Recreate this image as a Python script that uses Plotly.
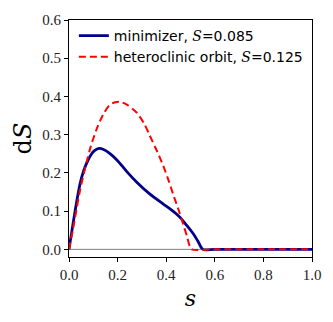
import plotly.graph_objects as go

s_min = [0, 0.025, 0.045, 0.06, 0.075, 0.09, 0.105, 0.124, 0.14, 0.17, 0.2, 0.237, 0.28, 0.332, 0.387, 0.42, 0.455, 0.48, 0.51, 0.53, 0.551, 0.6, 0.8, 1.0]
v_min = [0, 0.1, 0.17, 0.205, 0.229, 0.247, 0.258, 0.264, 0.262, 0.25, 0.232, 0.204, 0.175, 0.145, 0.119, 0.104, 0.085, 0.066, 0.042, 0.022, 0, 0, 0, 0]

s_het = [0, 0.02, 0.045, 0.073, 0.09, 0.114, 0.14, 0.168, 0.19, 0.209, 0.24, 0.278, 0.31, 0.332, 0.36, 0.387, 0.41, 0.428, 0.45, 0.469, 0.485, 0.497, 0.505, 0.6, 0.8, 1.0]
v_het = [0, 0.065, 0.153, 0.23, 0.27, 0.315, 0.352, 0.378, 0.385, 0.386, 0.378, 0.358, 0.328, 0.298, 0.26, 0.22, 0.18, 0.145, 0.105, 0.068, 0.035, 0.008, 0, 0, 0, 0]

label_min = "minimizer, <span style=\"font-family:'DejaVu Serif'\"><i>S</i></span>=0.085"
label_het = "heteroclinic orbit, <span style=\"font-family:'DejaVu Serif'\"><i>S</i></span>=0.125"

fig = go.Figure()
fig.add_trace(go.Scatter(x=[0, 1], y=[0, 0], mode="lines",
                         line=dict(color="gray", width=1), showlegend=False, hoverinfo="skip"))
fig.add_trace(go.Scatter(x=s_min, y=v_min, mode="lines", name=label_min,
                         line=dict(color="#00008b", width=2.8, shape="spline", smoothing=0.8)))
fig.add_trace(go.Scatter(x=s_het, y=v_het, mode="lines", name=label_het,
                         line=dict(color="#ff0000", width=2, dash="7px,4px", shape="spline", smoothing=0.8)))

axis_common = dict(showline=True, linecolor="black", linewidth=1, mirror=True,
                   ticks="outside", ticklen=4, tickcolor="black", showgrid=False, zeroline=False,
                   tickfont=dict(family="Liberation Serif", size=15, color="#222"))

fig.update_layout(
    width=333, height=322,
    margin=dict(l=69, r=20, t=15, b=65),
    plot_bgcolor="white", paper_bgcolor="white",
    xaxis=dict(range=[0, 1], tickvals=[0, 0.2, 0.4, 0.6, 0.8, 1.0], tickformat=".1f",
               title=dict(text="<i>s</i>", font=dict(family="DejaVu Serif", size=22, color="black"), standoff=8),
               **axis_common),
    yaxis=dict(range=[-0.02, 0.6], tickvals=[0, 0.1, 0.2, 0.3, 0.4, 0.5, 0.6], tickformat=".1f",
               title=dict(text="d<i>S</i>", font=dict(family="DejaVu Serif", size=24, color="black"), standoff=3),
               **axis_common),
    legend=dict(x=0.02, y=1.0, xanchor="left", yanchor="top", bgcolor="rgba(0,0,0,0)",
                font=dict(family="DejaVu Sans", size=14, color="black"), tracegroupgap=0),
)

fig.write_html("out.html", config={"displayModeBar": False},
               post_script="document.body.style.margin='0';")
